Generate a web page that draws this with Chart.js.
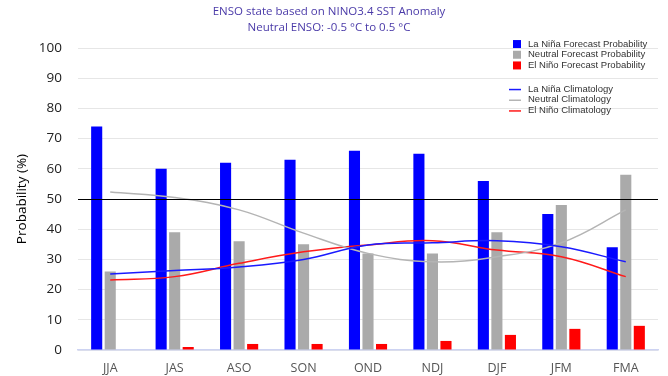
<!DOCTYPE html>
<html>
<head>
<meta charset="utf-8">
<script src="https://cdn.jsdelivr.net/npm/chart.js@4"></script>
<style>
  html, body { margin: 0; padding: 0; background: #ffffff; }
  #wrap { width: 668px; height: 376px; position: relative; }
</style>
</head>
<body>
<div id="wrap"><canvas id="ensoChart"></canvas></div>
<script>
// Сезони (трьохмісячні)
const seasons = ["JJA", "JAS", "ASO", "SON", "OND", "NDJ", "DJF", "JFM", "FMA"];

// Прогнозні ймовірності, %
const laNinaForecast = [74, 60, 62, 63, 66, 65, 56, 45, 34];
const neutralForecast = [26, 39, 36, 35, 32, 32, 39, 48, 58];
const elNinoForecast = [0, 1, 2, 2, 2, 3, 5, 7, 8];

// Кліматологія, %
const laNinaClim = [25.2, 26.3, 27.5, 30.0, 34.8, 35.5, 36.2, 34.2, 29.2];
const neutralClim = [52.3, 50.5, 46.4, 38.7, 32.0, 29.2, 30.9, 35.5, 46.4];
const elNinoClim = [23.2, 24.3, 28.7, 32.5, 34.8, 36.2, 33.1, 30.9, 24.3];

const yTicks = [0, 10, 20, 30, 40, 50, 60, 70, 80, 90, 100];
const thresholdValue = 50;

const FONT = "'Open Sans', 'DejaVu Sans', sans-serif";

// Горизонтальна лінія на 50 %
const thresholdLine = {
    id: "thresholdLine",
    afterDatasetsDraw(chart) {
        const { ctx, chartArea, scales } = chart;
        const y = Math.round(scales.y.getPixelForValue(thresholdValue)) + 0.5;
        ctx.save();
        ctx.strokeStyle = "#000000";
        ctx.lineWidth = 1.2;
        ctx.beginPath();
        ctx.moveTo(chartArea.left, y);
        ctx.lineTo(chartArea.right, y);
        ctx.stroke();
        ctx.restore();
    },
};

// Легенда у двох групах у верхньому правому куті
const groupedLegend = {
    id: "groupedLegend",
    afterDraw(chart) {
        const { ctx, chartArea } = chart;
        const ds = chart.data.datasets;
        const x0 = chartArea.right - 145;
        const rowH = 10.7;
        ctx.save();
        ctx.font = "9.5px 'Liberation Sans', Arial, sans-serif";
        ctx.textBaseline = "middle";
        ds.forEach((d, i) => {
            const isLine = d.type === "line";
            const y = isLine ? chartArea.top + 41 + (i - 3) * rowH : chartArea.top - 4 + i * rowH;
            if (isLine) {
                ctx.strokeStyle = d.borderColor;
                ctx.lineWidth = 1.5;
                ctx.beginPath();
                ctx.moveTo(x0 - 4, y + 0.5);
                ctx.lineTo(x0 + 8, y + 0.5);
                ctx.stroke();
            } else {
                ctx.fillStyle = d.backgroundColor;
                ctx.fillRect(x0, y - 4, 8, 8);
            }
            ctx.fillStyle = "#333333";
            ctx.fillText(d.label, x0 + 15, y);
        });
        ctx.restore();
    },
};

const barBase = {
    type: "bar",
    categoryPercentage: 0.63,
    barPercentage: 0.82,
    borderWidth: 0,
    order: 2,
};
const lineBase = {
    type: "line",
    borderWidth: 1.5,
    pointRadius: 0,
    tension: 0.4,
    fill: false,
    order: 1,
};

new Chart(document.getElementById("ensoChart"), {
    type: "bar",
    data: {
        labels: seasons,
        datasets: [
            { ...barBase, label: "La Niña Forecast Probability", data: laNinaForecast, backgroundColor: "#0000ff" },
            { ...barBase, label: "Neutral Forecast Probability", data: neutralForecast, backgroundColor: "#aaaaaa" },
            { ...barBase, label: "El Niño Forecast Probability", data: elNinoForecast, backgroundColor: "#ff0000" },
            { ...lineBase, label: "La Niña Climatology", data: laNinaClim, borderColor: "#1a1aff" },
            { ...lineBase, label: "Neutral Climatology", data: neutralClim, borderColor: "#b4b4b4" },
            { ...lineBase, label: "El Niño Climatology", data: elNinoClim, borderColor: "#ff1a1a" },
        ],
    },
    options: {
        responsive: true,
        maintainAspectRatio: false,
        animation: false,
        layout: { padding: { left: 0, right: 10, top: 0, bottom: 0 } },
        plugins: {
            legend: { display: false },
            tooltip: { enabled: false },
            title: {
                display: true,
                text: ["ENSO state based on NINO3.4 SST Anomaly", "Neutral ENSO: -0.5 °C to 0.5 °C"],
                color: "#4a3aa8",
                font: { family: FONT, size: 11.5, weight: "normal", lineHeight: 1.35 },
                padding: { top: 4, bottom: 13 },
            },
        },
        scales: {
            x: {
                afterFit: (scale) => { scale.height = 26; },
                grid: { display: false },
                border: { color: "#cdd3f2", width: 1.5 },
                ticks: { color: "#555555", font: { family: FONT, size: 12.5 }, padding: 3 },
            },
            y: {
                min: 0,
                max: 100,
                afterFit: (scale) => { scale.width = 78; },
                afterBuildTicks: (scale) => {
                    scale.ticks = yTicks.map((v) => ({ value: v }));
                },
                grid: { color: "#e6e6e6", drawTicks: false },
                border: { display: false },
                ticks: { color: "#222222", font: { family: FONT, size: 13.5 }, padding: 16 },
                title: {
                    display: true,
                    text: "Probability (%)",
                    color: "#000000",
                    font: { family: FONT, size: 13.5 },
                    padding: { top: 14, bottom: 0 },
                },
            },
        },
    },
    plugins: [thresholdLine, groupedLegend],
});
</script>
</body>
</html>
